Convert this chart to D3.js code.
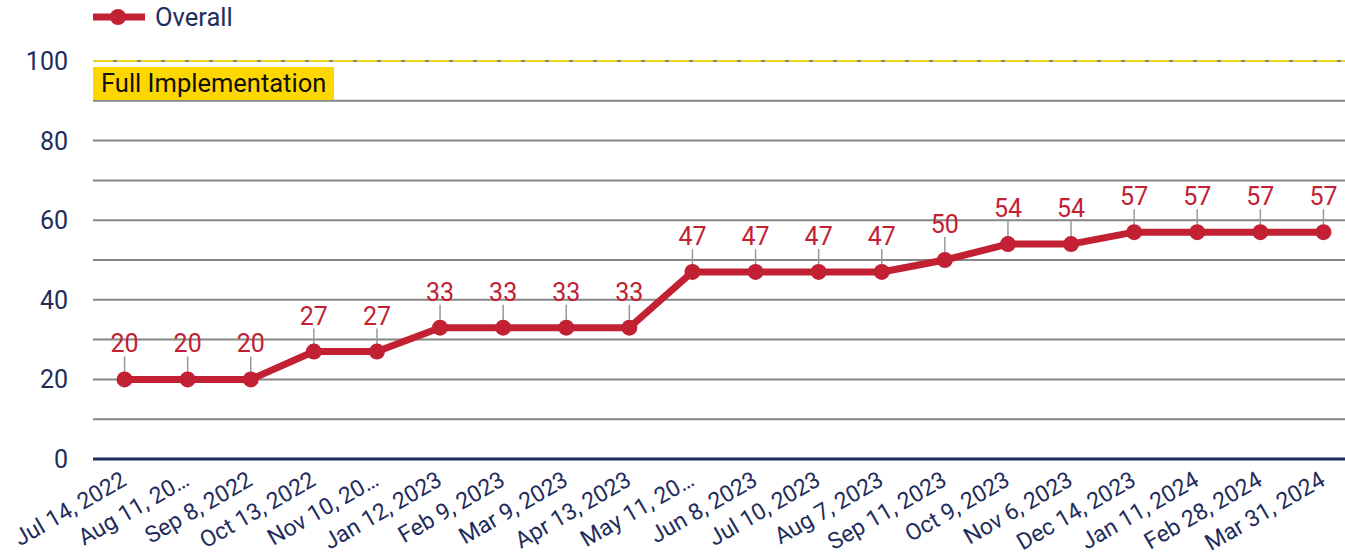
<!DOCTYPE html>
<html><head><meta charset="utf-8">
<script src="https://cdn.jsdelivr.net/npm/d3@7"></script>
<style>body{margin:0;background:#fff;font-family:Roboto,sans-serif}</style>
</head><body><svg id="c" width="1345" height="559"></svg>
<script>
const categories = ["Jul 14, 2022","Aug 11, 20…","Sep 8, 2022","Oct 13, 2022","Nov 10, 20…","Jan 12, 2023","Feb 9, 2023","Mar 9, 2023","Apr 13, 2023","May 11, 20…","Jun 8, 2023","Jul 10, 2023","Aug 7, 2023","Sep 11, 2023","Oct 9, 2023","Nov 6, 2023","Dec 14, 2023","Jan 11, 2024","Feb 28, 2024","Mar 31, 2024"];
const overall = [20,20,20,27,27,33,33,33,33,47,47,47,47,50,54,54,57,57,57,57];
const yTicks = [0,20,40,60,80,100];
const gridValues = [10,20,30,40,50,60,70,80,90,100];
const targetValue = 100;
const targetLabel = "Full Implementation";
const seriesName = "Overall";

(function(){
const red = "#C22033", navy = "#1F2D5C", grid = "#868686";
const svg = d3.select("#c");
const mLeft = 93, mRight = 1355, mTop = 61, mBottom = 459;
const x = d3.scaleBand().domain(categories).range([mLeft, mRight]);
const y = d3.scaleLinear().domain([0, 100]).range([mBottom, mTop]);
const cx = d => x(d) + x.bandwidth() / 2;

svg.append("g").selectAll("line").data(gridValues).join("line")
  .attr("x1", mLeft).attr("x2", 1345).attr("y1", d => y(d)).attr("y2", d => y(d))
  .attr("stroke", grid).attr("stroke-width", 2);

svg.append("line").attr("x1", mLeft).attr("x2", 1345)
  .attr("y1", y(targetValue)).attr("y2", y(targetValue))
  .attr("stroke", "#F2D31B").attr("stroke-width", 2).attr("stroke-dasharray", "20,4");
const tl = svg.append("g");
tl.append("rect").attr("x", mLeft).attr("y", y(targetValue) + 6).attr("width", 241).attr("height", 33).attr("fill", "#FFD700");
tl.append("text").attr("x", mLeft + 8).attr("y", y(targetValue) + 31).attr("font-size", 25.5).attr("fill", "#111").text(targetLabel);

svg.append("g").selectAll("text").data(yTicks).join("text")
  .attr("x", 68).attr("y", d => y(d) + 9).attr("text-anchor", "end")
  .attr("font-size", 25).attr("fill", navy).text(d => d);

svg.append("line").attr("x1", mLeft).attr("x2", 1345).attr("y1", y(0)).attr("y2", y(0))
  .attr("stroke", navy).attr("stroke-width", 3);

svg.append("g").selectAll("text").data(categories).join("text")
  .attr("transform", d => `translate(${cx(d) - 5},${y(0) + 11}) rotate(-30)`)
  .attr("text-anchor", "end").attr("dy", "0.72em")
  .attr("font-size", 23).attr("fill", navy).text(d => d);

svg.append("g").selectAll("line").data(overall).join("line")
  .attr("x1", (d, i) => cx(categories[i])).attr("x2", (d, i) => cx(categories[i]))
  .attr("y1", d => y(d) - 23).attr("y2", d => y(d) - 6)
  .attr("stroke", "#999").attr("stroke-width", 1.5);

svg.append("path").datum(overall)
  .attr("d", d3.line().x((d, i) => cx(categories[i])).y(d => y(d)))
  .attr("fill", "none").attr("stroke", red).attr("stroke-width", 7).attr("stroke-linejoin", "round");
svg.append("g").selectAll("circle").data(overall).join("circle")
  .attr("cx", (d, i) => cx(categories[i])).attr("cy", d => y(d)).attr("r", 8).attr("fill", red);

svg.append("g").selectAll("text").data(overall).join("text")
  .attr("x", (d, i) => cx(categories[i])).attr("y", d => y(d) - 27)
  .attr("text-anchor", "middle").attr("font-size", 25).attr("fill", red).text(d => d);

const lg = svg.append("g");
lg.append("line").attr("x1", 93).attr("x2", 145).attr("y1", 17).attr("y2", 17).attr("stroke", red).attr("stroke-width", 7);
lg.append("circle").attr("cx", 118).attr("cy", 17).attr("r", 8).attr("fill", red);
lg.append("text").attr("x", 155).attr("y", 26).attr("font-size", 25.5).attr("fill", navy).text(seriesName);
})();
</script></body></html>
